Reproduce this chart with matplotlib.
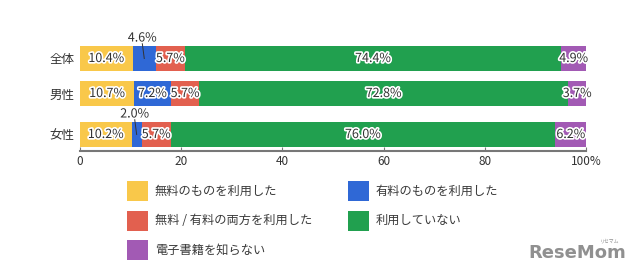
import matplotlib
matplotlib.use('Agg')
import matplotlib.pyplot as plt
import matplotlib.patheffects as pe
from matplotlib.patches import Rectangle

plt.rcParams['font.family'] = ['Noto Sans CJK JP', 'DejaVu Sans']

groups = ['全体', '男性', '女性']
series = ['無料のものを利用した', '有料のものを利用した', '無料 / 有料の両方を利用した',
          '利用していない', '電子書籍を知らない']
free_only = [10.4, 10.7, 10.2]
paid_only = [4.6, 7.2, 2.0]
both = [5.7, 5.7, 5.7]
not_used = [74.4, 72.8, 76.0]
unknown = [4.9, 3.7, 6.2]
xticks = [0, 20, 40, 60, 80, 100]
xtick_labels = ['0', '20', '40', '60', '80', '100%']

colors = ['#F9C84A', '#2F68D6', '#E2604F', '#21A04F', '#A25AB4']
values = [free_only, paid_only, both, not_used, unknown]

# bar centres in pixel-ish units (row gaps differ in the original)
ypos = [58.5, 93.5, 134.5]
bar_h = 25

fig = plt.figure(figsize=(6.4, 2.79), dpi=100)
ax = fig.add_axes([80 / 640, 1 - 151 / 279, 506 / 640, 121 / 279])

outline = [pe.withStroke(linewidth=2.4, foreground='white')]
left = [0, 0, 0]
for s, vals in enumerate(values):
    ax.barh(ypos, vals, height=bar_h, left=left, color=colors[s], linewidth=0)
    for i, v in enumerate(vals):
        cx = left[i] + v / 2
        txt = f'{v:.1f}%'
        if v < 5 and s == 1:
            # small segment: label above with leader line
            ty = ypos[i] - bar_h / 2 - 8
            ax.text(cx - 0.4, ty, txt, ha='center', va='center', fontsize=9,
                    color='#333333', path_effects=outline)
            ax.plot([cx - 0.4, cx], [ty + 5, ypos[i]], color='#333333', lw=0.7)
        else:
            ax.text(cx, ypos[i], txt, ha='center', va='center', fontsize=9,
                    color='#333333', path_effects=outline)
    left = [l + v for l, v in zip(left, vals)]

ax.set_xlim(0, 100)
ax.set_ylim(151, 30)
ax.set_yticks(ypos)
ax.set_yticklabels(groups, fontsize=9, color='#333333')
ax.set_xticks(xticks)
ax.set_xticklabels(xtick_labels, fontsize=8.5, color='#333333')
for sp in ['top', 'right', 'left']:
    ax.spines[sp].set_visible(False)
ax.spines['bottom'].set_color('#777777')
ax.spines['bottom'].set_linewidth(1.5)
ax.tick_params(axis='y', length=0, pad=4)
ax.tick_params(axis='x', direction='in', length=3, color='#777777', pad=3)

# legend laid out by hand: two columns
order = [0, 2, 4, 1, 3]
for k, s in enumerate(order):
    col, row = (0, k) if k < 3 else (1, k - 3)
    x0 = (127 if col == 0 else 348) / 640
    yc = 1 - (191 + row * 29.5) / 279
    fig.add_artist(Rectangle((x0, yc - 10 / 279), 21 / 640, 20 / 279,
                             transform=fig.transFigure, color=colors[s], lw=0))
    fig.text(x0 + 28 / 640, yc, series[s], fontsize=8.8, color='#3a3a3a',
             va='center', ha='left')

fig.text(577 / 640, 1 - 253 / 279, 'ReseMom', fontsize=13, fontweight='bold',
         color='#909090', ha='center', va='center', family='DejaVu Sans')
fig.text(610 / 640, 1 - 241 / 279, 'リセマム', fontsize=3.5, color='#909090',
         ha='center', va='center')

fig.savefig('out.png', dpi=100, facecolor='white')
